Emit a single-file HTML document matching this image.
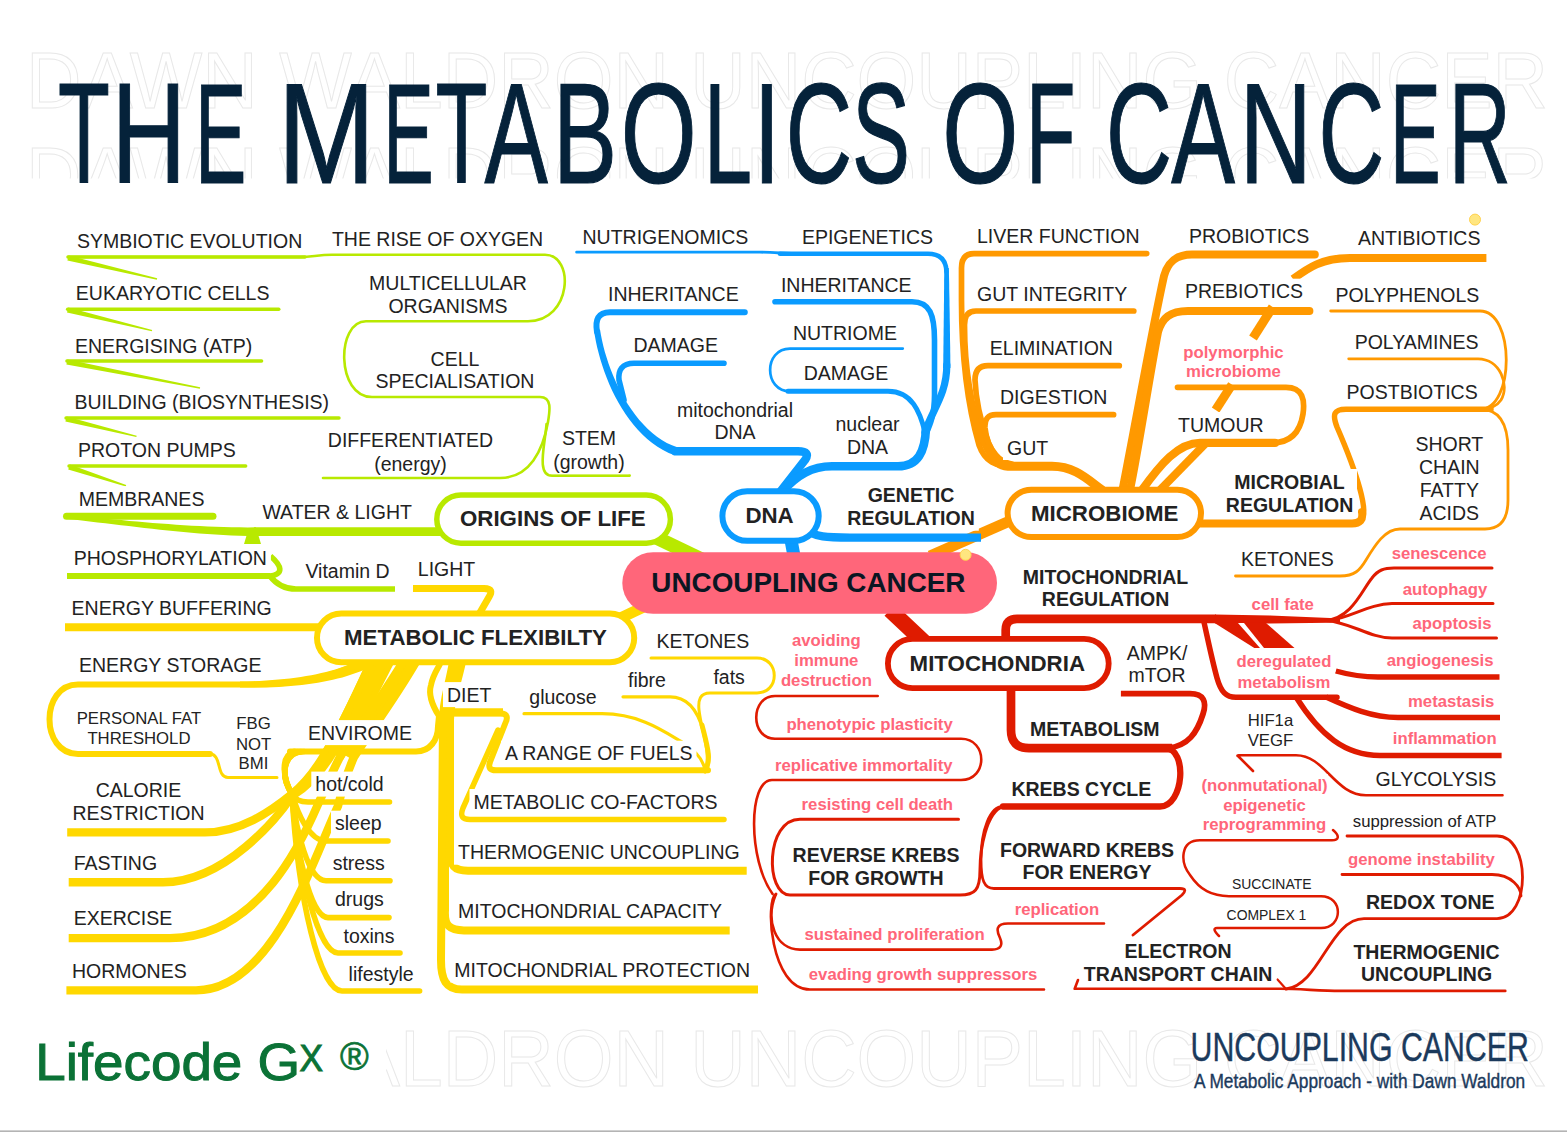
<!DOCTYPE html>
<html><head><meta charset="utf-8"><title>The Metabolics of Cancer</title>
<style>
html,body{margin:0;padding:0;background:#fff;}
svg{display:block;font-family:"Liberation Sans",sans-serif;}
</style></head><body>
<svg width="1567" height="1132" viewBox="0 0 1567 1132">
<rect width="1567" height="1132" fill="#fff"/>
<defs><clipPath id="c2"><rect x="0" y="140" width="1567" height="38.5"/></clipPath>
<clipPath id="c3"><rect x="386" y="1020" width="1181" height="80"/></clipPath></defs>
<g fill="none" stroke="#e8e8e8" stroke-width="1" font-size="79.7">
<text x="26" y="107.5" textLength="1522" lengthAdjust="spacingAndGlyphs">DAWN WALDRON UNCOUPLING CANCER</text>
<text x="26" y="202.5" textLength="1522" lengthAdjust="spacingAndGlyphs" clip-path="url(#c2)">DAWN WALDRON UNCOUPLING CANCER</text>
<text x="26" y="1086" textLength="1522" lengthAdjust="spacingAndGlyphs" clip-path="url(#c3)">DAWN WALDRON UNCOUPLING CANCER</text>
</g>
<g fill="#05223a" stroke="#05223a" stroke-width="1.2" font-size="143">
<text y="183.2"><tspan x="57.9" textLength="51.9" lengthAdjust="spacingAndGlyphs">T</tspan><tspan x="111.5" textLength="74.6" lengthAdjust="spacingAndGlyphs">H</tspan><tspan x="194.9" textLength="51.3" lengthAdjust="spacingAndGlyphs">E</tspan></text>
<text y="183.2"><tspan x="277.5" textLength="97.8" lengthAdjust="spacingAndGlyphs">M</tspan><tspan x="383.2" textLength="50.5" lengthAdjust="spacingAndGlyphs">E</tspan><tspan x="435.4" textLength="51.9" lengthAdjust="spacingAndGlyphs">T</tspan><tspan x="484.4" textLength="63.3" lengthAdjust="spacingAndGlyphs">A</tspan><tspan x="552.9" textLength="64.1" lengthAdjust="spacingAndGlyphs">B</tspan><tspan x="620.8" textLength="75.9" lengthAdjust="spacingAndGlyphs">O</tspan><tspan x="703.8" textLength="48.3" lengthAdjust="spacingAndGlyphs">L</tspan><tspan x="753.2" textLength="27.2" lengthAdjust="spacingAndGlyphs">I</tspan><tspan x="785.8" textLength="66.4" lengthAdjust="spacingAndGlyphs">C</tspan><tspan x="852.1" textLength="58.0" lengthAdjust="spacingAndGlyphs">S</tspan></text>
<text y="183.2"><tspan x="942.2" textLength="76.1" lengthAdjust="spacingAndGlyphs">O</tspan><tspan x="1026.0" textLength="49.4" lengthAdjust="spacingAndGlyphs">F</tspan></text>
<text y="183.2"><tspan x="1106.1" textLength="66.0" lengthAdjust="spacingAndGlyphs">C</tspan><tspan x="1171.2" textLength="63.7" lengthAdjust="spacingAndGlyphs">A</tspan><tspan x="1239.4" textLength="72.5" lengthAdjust="spacingAndGlyphs">N</tspan><tspan x="1318.6" textLength="65.8" lengthAdjust="spacingAndGlyphs">C</tspan><tspan x="1390.0" textLength="50.7" lengthAdjust="spacingAndGlyphs">E</tspan><tspan x="1448.7" textLength="62.1" lengthAdjust="spacingAndGlyphs">R</tspan></text>
</g>

<g id="lines">
<path d="M68,257 L300,257 C312,257 318,254.8 332,254.8 L545,254.8 C575,254.8 572,321.3 528,321.3 L366,321.3 C336,321.3 336,397 372,397 L540,397 C552,397 550,410 548,422 C543,450 530,478 500,478 L323,478" stroke="#b8e900" stroke-width="2.6" fill="none" stroke-linecap="round" stroke-linejoin="round"/>
<path d="M546.5,424 C545,445 536,475.6 552,475.6 L629.7,475.6" stroke="#b8e900" stroke-width="2.6" fill="none" stroke-linecap="round" stroke-linejoin="round"/>
<path d="M67.6,309.2 L278.8,309.2" stroke="#b8e900" stroke-width="3.4" fill="none" stroke-linecap="round" stroke-linejoin="round"/>
<path d="M66.9,361 L261.6,361" stroke="#b8e900" stroke-width="3.4" fill="none" stroke-linecap="round" stroke-linejoin="round"/>
<path d="M66,418 L339,418" stroke="#b8e900" stroke-width="3.4" fill="none" stroke-linecap="round" stroke-linejoin="round"/>
<path d="M69,466 L245.7,466" stroke="#b8e900" stroke-width="3.4" fill="none" stroke-linecap="round" stroke-linejoin="round"/>
<path d="M68,257 L305,257" stroke="#b8e900" stroke-width="3.4" fill="none" stroke-linecap="round" stroke-linejoin="round"/>
<path d="M66.5,516.2 L213,516.2" stroke="#b8e900" stroke-width="7" fill="none" stroke-linecap="round" stroke-linejoin="round"/>
<polygon points="67.4,260.4 156.8,279.7 157.2,278.3 68.6,255.6" fill="#b8e900"/>
<polygon points="67.0,312.4 151.8,331.3 152.2,329.9 68.2,307.6" fill="#b8e900"/>
<polygon points="66.4,364.5 199.9,388.7 200.1,387.3 67.4,359.5" fill="#b8e900"/>
<polygon points="65.4,421.4 136.3,437.1 136.7,435.7 66.6,416.6" fill="#b8e900"/>
<polygon points="68.2,469.4 125.8,486.4 126.2,485.0 69.8,464.6" fill="#b8e900"/>
<polygon points="65.8,518.7 73.8,519.6 81.7,520.5 89.6,521.4 97.5,522.4 105.3,523.3 113.2,524.2 121.0,525.2 128.8,526.1 136.6,527.0 144.4,527.9 152.2,528.8 160.0,529.7 167.8,530.5 175.6,531.3 183.5,532.0 191.4,532.7 199.3,533.4 207.3,534.0 215.3,534.5 223.3,535.0 231.4,535.4 239.5,535.7 247.7,535.9 256.0,536.1 256.0,527.3 247.8,527.4 239.7,527.3 231.6,527.2 223.6,527.1 215.6,526.8 207.7,526.5 199.8,526.1 191.9,525.7 184.0,525.2 176.2,524.7 168.4,524.1 160.5,523.5 152.7,522.9 144.9,522.2 137.1,521.6 129.3,520.9 121.5,520.1 113.7,519.4 105.8,518.7 97.9,518.0 90.0,517.3 82.1,516.6 74.2,515.9 66.2,515.3" fill="#b8e900"/>
<path d="M254,531.7 L440,531.7" stroke="#b8e900" stroke-width="8.8" fill="none" stroke-linecap="butt" stroke-linejoin="round"/>
<polygon points="247,534 258,534 261,544 244,544" fill="#b8e900"/>
<path d="M67,576 L270,576" stroke="#b8e900" stroke-width="6.2" fill="none" stroke-linecap="butt" stroke-linejoin="round"/>
<path d="M270.5,556 C282,566 284,574 270,576 C276,584 284,589 296,589 L395,589" stroke="#b8e900" stroke-width="5.6" fill="none" stroke-linecap="butt" stroke-linejoin="round"/>
<path d="M655,537 L705,561" stroke="#b8e900" stroke-width="14" fill="none" stroke-linecap="butt" stroke-linejoin="round"/>
<path d="M612,622 L650,604" stroke="#ffd800" stroke-width="11" fill="none" stroke-linecap="butt" stroke-linejoin="round"/>
<path d="M413,588.5 L484,588.5 C492,588.5 492,592 489,597 L478,616" stroke="#ffd800" stroke-width="7" fill="none" stroke-linecap="butt" stroke-linejoin="round"/>
<path d="M65,627.2 L322,627.2" stroke="#ffd800" stroke-width="8" fill="none" stroke-linecap="butt" stroke-linejoin="round"/>
<polygon points="363.6,658.0 359.9,659.9 356.0,661.7 352.1,663.4 348.0,665.0 343.8,666.6 339.6,668.0 335.2,669.4 330.6,670.7 326.0,671.9 321.2,673.1 316.3,674.2 311.3,675.2 306.1,676.1 300.8,677.0 295.4,677.7 289.8,678.4 284.1,679.1 278.3,679.6 272.3,680.1 266.1,680.5 259.8,680.9 253.4,681.2 246.8,681.4 240.0,681.5 240.0,687.5 246.8,687.6 253.5,687.6 260.0,687.5 266.4,687.4 272.7,687.2 278.8,686.9 284.8,686.5 290.6,686.1 296.3,685.6 301.9,685.0 307.4,684.3 312.7,683.6 317.9,682.7 323.0,681.8 328.0,680.8 332.9,679.8 337.7,678.6 342.4,677.4 347.0,676.0 351.4,674.6 355.8,673.1 360.1,671.5 364.3,669.8 368.4,668.0" fill="#ffd800"/>
<path d="M358,664 C330,678 295,684.5 250,684.5 L78,684.5 C40,684.5 40,754 78,754 L210,754" stroke="#ffd800" stroke-width="6" fill="none" stroke-linecap="round" stroke-linejoin="round"/>
<path d="M210,754 C222,754 216,777.5 228,777.5 L277,777.5" stroke="#ffd800" stroke-width="3" fill="none" stroke-linecap="round" stroke-linejoin="round"/>
<path d="M290,751.5 L416,751.5 C430,751.5 438,740 438,726 L439,716 C432,705 428,695 431,685 C433,675 437,670 440,664" stroke="#ffd800" stroke-width="6" fill="none" stroke-linecap="round" stroke-linejoin="round"/>
<path d="M304,751.5 C284,752 279,775 292,794 C296,800 300,802 308,802 L389.5,802" stroke="#ffd800" stroke-width="5.6" fill="none" stroke-linecap="round" stroke-linejoin="round"/>
<path d="M302,751.5 C283,753 280,776 292,794 C298,815 310,841 326,841 L388,841" stroke="#ffd800" stroke-width="5.6" fill="none" stroke-linecap="round" stroke-linejoin="round"/>
<path d="M300,751.5 C282,754 281,777 292,794 C296,830 308,880.7 326,880.7 L390,880.7" stroke="#ffd800" stroke-width="5.6" fill="none" stroke-linecap="round" stroke-linejoin="round"/>
<path d="M298,751.5 C281,755 282,778 292,794 C296,850 310,917.6 328,917.6 L389,917.6" stroke="#ffd800" stroke-width="5.6" fill="none" stroke-linecap="round" stroke-linejoin="round"/>
<path d="M296,751.5 C280,756 283,779 292,794 C298,870 318,953 338,953 L400,953" stroke="#ffd800" stroke-width="5.6" fill="none" stroke-linecap="round" stroke-linejoin="round"/>
<path d="M294,751.5 C279,757 284,780 292,794 C298,900 320,991 342,991 L419.6,991" stroke="#ffd800" stroke-width="5.6" fill="none" stroke-linecap="round" stroke-linejoin="round"/>
<path d="M374,662 C356,700 340,735 326,757" stroke="#ffd800" stroke-width="13" fill="none" stroke-linecap="butt" stroke-linejoin="round"/>
<path d="M389,662 C372,695 352,735 339,757" stroke="#ffd800" stroke-width="10" fill="none" stroke-linecap="butt" stroke-linejoin="round"/>
<path d="M410,662 C388,700 364,730 348,757" stroke="#ffd800" stroke-width="11" fill="none" stroke-linecap="butt" stroke-linejoin="round"/>
<path d="M371,662 C354,700 337,735 323,757 C312,775 302,786 292,794 C270,812 240,832.4 205,832.4 L67.2,832.4" stroke="#ffd800" stroke-width="8.4" fill="none" stroke-linecap="butt" stroke-linejoin="round"/>
<path d="M383,662 C364,700 345,735 330,757 C318,776 305,788 292,796 C278,817 225,882.3 163,882.3 L68.7,882.3" stroke="#ffd800" stroke-width="8.4" fill="none" stroke-linecap="butt" stroke-linejoin="round"/>
<path d="M403,662 C380,700 357,730 340,757 C332,772 325,790 319,802 C306,832 262,938.1 170,938.1 L68.7,938.1" stroke="#ffd800" stroke-width="8.4" fill="none" stroke-linecap="butt" stroke-linejoin="round"/>
<path d="M416,662 C394,700 371,730 354,757 C346,775 342,790 338,806 C312,862 272,990.4 196,990.4 L66.4,990.4" stroke="#ffd800" stroke-width="8.4" fill="none" stroke-linecap="butt" stroke-linejoin="round"/>
<path d="M462,662 C456,690 450,700 450,720 L450,850 C450,866 454,870.7 468,870.7 L746.7,870.7" stroke="#ffd800" stroke-width="8" fill="none" stroke-linecap="butt" stroke-linejoin="round"/>
<path d="M457,662 C451,690 445,700 445,720 L445,910 C444,926 450,930.4 464,930.4 L729.7,930.4" stroke="#ffd800" stroke-width="8" fill="none" stroke-linecap="butt" stroke-linejoin="round"/>
<path d="M453,662 C448,690 443,700 443,720 L441,960 C441,980 446,989.5 462,989.5 L758,989.5" stroke="#ffd800" stroke-width="8" fill="none" stroke-linecap="butt" stroke-linejoin="round"/>
<path d="M443,713.6 L500,713.6 C508,713.4 508,718 505,724 L490,762 C488,768 490,770.3 496,770.3 L708,770.3" stroke="#ffd800" stroke-width="6" fill="none" stroke-linecap="round" stroke-linejoin="round"/>
<path d="M498,730 L463,808 C460,816 462,819.5 470,819.5 L724,819.5" stroke="#ffd800" stroke-width="5.5" fill="none" stroke-linecap="round" stroke-linejoin="round"/>
<path d="M441,712.2 L503,712.2" stroke="#ffd800" stroke-width="8" fill="none" stroke-linecap="butt" stroke-linejoin="round"/>
<path d="M524,713.7 L602,713.7 C640,713.7 665,732 682,742 C698,752 704,762 705,771" stroke="#ffd800" stroke-width="3.2" fill="none" stroke-linecap="round" stroke-linejoin="round"/>
<path d="M623,696.8 L670,696.8 C688,696.8 698,712 703,730 C708,748 712,760 705,771" stroke="#ffd800" stroke-width="3.2" fill="none" stroke-linecap="round" stroke-linejoin="round"/>
<path d="M651,658 L757,658 C780,658 780,693 757,693 L710,693 C700,693 698,700 699,710 C701,730 712,755 705,771" stroke="#ffd800" stroke-width="3" fill="none" stroke-linecap="round" stroke-linejoin="round"/>
<path d="M702,725 C707,745 712,760 705,771" stroke="#ffd800" stroke-width="5" fill="none" stroke-linecap="round" stroke-linejoin="round"/>
<path d="M576.6,252.2 L760,252.2 C775,252.2 785,253.8 800,253.8" stroke="#0a9bff" stroke-width="2.8" fill="none" stroke-linecap="round" stroke-linejoin="round"/>
<path d="M780,253.8 L928,253.8 Q946,253.8 946.5,272" stroke="#0a9bff" stroke-width="4.6" fill="none" stroke-linecap="round" stroke-linejoin="round"/>
<polygon points="944.2,268.0 944.2,272.0 944.2,276.1 944.1,280.1 944.1,284.2 944.1,288.4 944.0,292.5 944.0,296.7 944.0,300.8 943.9,305.0 943.9,309.2 943.8,313.4 943.8,317.6 943.7,321.9 943.7,326.1 943.6,330.3 943.6,334.5 943.5,338.7 943.5,343.0 943.4,347.2 943.4,351.4 943.3,355.5 943.3,359.7 943.2,363.9 943.1,368.0 950.4,368.0 950.4,363.9 950.3,359.7 950.3,355.5 950.2,351.4 950.2,347.2 950.1,343.0 950.0,338.7 950.0,334.5 949.9,330.3 949.9,326.1 949.8,321.8 949.7,317.6 949.7,313.4 949.6,309.2 949.5,305.0 949.5,300.8 949.4,296.6 949.3,292.5 949.2,288.3 949.2,284.2 949.1,280.1 949.0,276.0 948.9,272.0 948.8,268.0" fill="#0a9bff"/>
<path d="M946.8,365 C946.8,395 932,410 925,432" stroke="#0a9bff" stroke-width="7.2" fill="none" stroke-linecap="round" stroke-linejoin="round"/>
<path d="M744.8,312.2 L610,312.2 C598,312.2 595,320 597,332" stroke="#0a9bff" stroke-width="6" fill="none" stroke-linecap="round" stroke-linejoin="round"/>
<polygon points="594.0,330.4 594.9,335.9 595.9,341.6 597.2,347.4 598.7,353.3 600.4,359.4 602.3,365.6 604.4,371.8 606.8,378.0 609.3,384.2 612.1,390.4 615.1,396.5 618.4,402.5 621.8,408.3 625.5,414.0 629.4,419.5 633.5,424.8 637.8,429.8 642.4,434.6 647.2,439.0 652.2,443.1 657.5,446.8 663.0,450.1 668.7,452.9 674.7,455.3 677.3,447.3 672.0,445.3 666.8,442.9 661.8,440.0 657.0,436.7 652.3,433.0 647.8,429.0 643.5,424.6 639.3,420.0 635.4,415.0 631.6,409.8 628.0,404.4 624.6,398.9 621.4,393.2 618.4,387.3 615.7,381.4 613.1,375.4 610.7,369.4 608.5,363.5 606.6,357.5 604.8,351.7 603.3,345.9 602.0,340.3 600.9,334.8 600.0,329.6" fill="#0a9bff"/>
<path d="M675,451.3 L798,451.3 Q811,451.3 805,460 L780,492" stroke="#0a9bff" stroke-width="8.4" fill="none" stroke-linecap="round" stroke-linejoin="round"/>
<path d="M724,363.3 L634,363.3 C622,363.3 618,370 619,380 L624,400" stroke="#0a9bff" stroke-width="5.6" fill="none" stroke-linecap="round" stroke-linejoin="round"/>
<path d="M775,301.7 L912,301.7 C930,301.7 934.5,315 934.5,340 L934.5,395 C934.5,415 930,425 926,434" stroke="#0a9bff" stroke-width="5.6" fill="none" stroke-linecap="round" stroke-linejoin="round"/>
<path d="M926,428 C925,452 918,466.3 898,466.3 L832,466.3 C812,466.3 797,475 782,492" stroke="#0a9bff" stroke-width="8.6" fill="none" stroke-linecap="round" stroke-linejoin="round"/>
<path d="M902.8,348.6 L790,348.6 C763.5,348.6 763.5,391.2 790,391.2" stroke="#0a9bff" stroke-width="2.7" fill="none" stroke-linecap="round" stroke-linejoin="round"/>
<path d="M788,391.2 L888,391.2 C912,391.2 920,412 925,432" stroke="#0a9bff" stroke-width="5" fill="none" stroke-linecap="round" stroke-linejoin="round"/>
<path d="M791,540 L794,556" stroke="#0a9bff" stroke-width="13" fill="none" stroke-linecap="butt" stroke-linejoin="round"/>
<path d="M1146.7,253.6 L974,253.6 Q961.5,253.6 961.5,268 L961.5,300 C961.5,350 966,400 979,445 C985,462 996,466.3 1012,466.3" stroke="#ff9900" stroke-width="5.7" fill="none" stroke-linecap="round" stroke-linejoin="round"/>
<path d="M1133.8,311 L976,311 Q964.5,311 964.5,325 C964.5,370 972,410 984,444 C990,458 998,464 1010,465" stroke="#ff9900" stroke-width="5.7" fill="none" stroke-linecap="round" stroke-linejoin="round"/>
<path d="M1119.3,365.7 L988,365.7 Q975,365.7 975,380 C976,405 982,425 988,442 C994,456 1000,462 1010,464" stroke="#ff9900" stroke-width="5.7" fill="none" stroke-linecap="round" stroke-linejoin="round"/>
<path d="M1113.6,414.7 L996,414.7 Q984,414.7 985,428 C986,438 990,448 996,455 C1000,460 1005,463 1012,464" stroke="#ff9900" stroke-width="5.7" fill="none" stroke-linecap="round" stroke-linejoin="round"/>
<path d="M1000,464 C1004,466.3 1008,466.3 1012,466.3 L1052,466.3 C1075,466.3 1088,480 1102,490" stroke="#ff9900" stroke-width="9" fill="none" stroke-linecap="round" stroke-linejoin="round"/>
<path d="M1314.8,254.5 L1192,254.5 C1176,254.5 1168,262 1164,276 C1152,330 1140,400 1122.5,490" stroke="#ff9900" stroke-width="8" fill="none" stroke-linecap="round" stroke-linejoin="round"/>
<path d="M1486.4,257.9 L1350,257.9 C1322,257.9 1308,268 1293,279" stroke="#ff9900" stroke-width="8" fill="none" stroke-linecap="butt" stroke-linejoin="round"/>
<path d="M1309.4,311 L1188,311 C1170,311 1162,318 1158,332 C1148,385 1140,440 1130,490" stroke="#ff9900" stroke-width="8" fill="none" stroke-linecap="round" stroke-linejoin="round"/>
<path d="M1272.7,307 L1253,338" stroke="#ff9900" stroke-width="9" fill="none" stroke-linecap="butt" stroke-linejoin="round"/>
<path d="M1177.5,387.3 L1286,387.3 C1303,387.3 1305,400 1303,414 C1300,433 1290,442.9 1272,442.9" stroke="#ff9900" stroke-width="5.7" fill="none" stroke-linecap="round" stroke-linejoin="round"/>
<path d="M1275,442.9 L1200,442.9 C1178,442.9 1160,465 1142,490" stroke="#ff9900" stroke-width="8.2" fill="none" stroke-linecap="round" stroke-linejoin="round"/>
<path d="M1207,442 L1160,490" stroke="#ff9900" stroke-width="8.2" fill="none" stroke-linecap="butt" stroke-linejoin="round"/>
<path d="M1232,384.6 L1215.6,410" stroke="#ff9900" stroke-width="9" fill="none" stroke-linecap="butt" stroke-linejoin="round"/>
<path d="M1200,523.4 L1352,523.4 Q1364,523.4 1362,512" stroke="#ff9900" stroke-width="8" fill="none" stroke-linecap="round" stroke-linejoin="round"/>
<path d="M1363,516 C1366,508 1360,480 1337,427 C1332,414 1334,409.2 1346,409.2 L1491,409.2" stroke="#ff9900" stroke-width="5.5" fill="none" stroke-linecap="round" stroke-linejoin="round"/>
<path d="M1330.7,311 L1480,311 C1515,311 1515,409.2 1480,409.2" stroke="#ff9900" stroke-width="2.8" fill="none" stroke-linecap="round" stroke-linejoin="round"/>
<path d="M1348.7,358.8 L1478,358.8 C1500,358.8 1510,385 1501,400 C1497,406 1490,409.2 1480,409.2" stroke="#ff9900" stroke-width="2.8" fill="none" stroke-linecap="round" stroke-linejoin="round"/>
<path d="M1480,409.2 C1503,409.2 1508,430 1508,450 L1508,500 C1508,520 1500,529 1485,529 L1400,529 C1385,529 1375,545 1366,560 C1360,570 1355,576 1340,576 L1235.5,576" stroke="#ff9900" stroke-width="2.8" fill="none" stroke-linecap="round" stroke-linejoin="round"/>
<path d="M1012,520 L930,556" stroke="#ff9900" stroke-width="11" fill="none" stroke-linecap="butt" stroke-linejoin="round"/>
<path d="M806,528 C812,537.6 830,537.6 850,537.6 L981,537.6" stroke="#0a9bff" stroke-width="8.2" fill="none" stroke-linecap="butt" stroke-linejoin="round"/>
<path d="M890,610 L924,642" stroke="#df1b00" stroke-width="16" fill="none" stroke-linecap="butt" stroke-linejoin="round"/>
<path d="M1005.7,642 L1005.7,630 Q1005.7,618.9 1017,618.9 L1216,618.9" stroke="#df1b00" stroke-width="8.7" fill="none" stroke-linecap="butt" stroke-linejoin="round"/>
<polygon points="1215,614.55 1270,615.5 1330,618 1340,619 1340,622.2 1330,622.8 1270,623.6 1215,623.25" fill="#df1b00"/>
<path d="M1326,620.4 C1352,618 1362,590 1372,578 C1378,570 1384,568 1394,568 L1492,568" stroke="#df1b00" stroke-width="3" fill="none" stroke-linecap="round" stroke-linejoin="round"/>
<path d="M1330,620.4 C1350,618 1370,603.6 1392,603.6 L1493,603.6" stroke="#df1b00" stroke-width="3" fill="none" stroke-linecap="round" stroke-linejoin="round"/>
<path d="M1326,620.4 C1350,622 1370,638 1392,638 L1496.5,638" stroke="#df1b00" stroke-width="3" fill="none" stroke-linecap="round" stroke-linejoin="round"/>
<path d="M1203.5,620 C1208,640 1212,660 1217,678 C1221,692 1226,697.3 1236,697.3 L1337,697.3" stroke="#df1b00" stroke-width="5.5" fill="none" stroke-linecap="round" stroke-linejoin="round"/>
<polygon points="1213,622 1266,623 1294.5,648 1254.3,648" fill="#df1b00"/>
<polygon points="1238,623 1244,623 1264,648 1260,648" fill="#fff"/>
<path d="M1335.8,671 C1350,675 1362,677 1378,677 L1499.5,677" stroke="#df1b00" stroke-width="5.3" fill="none" stroke-linecap="butt" stroke-linejoin="round"/>
<path d="M1326,697 C1350,708 1372,717.5 1398,717.5 L1500,717.5" stroke="#df1b00" stroke-width="5.3" fill="none" stroke-linecap="butt" stroke-linejoin="round"/>
<path d="M1296,697 C1320,735 1345,755.4 1380,755.4 L1501.6,755.4" stroke="#df1b00" stroke-width="5.5" fill="none" stroke-linecap="butt" stroke-linejoin="round"/>
<path d="M1120.9,693.7 L1190,693.7 C1204,693.7 1207,702 1203,714 C1197,733 1188,746 1168,748" stroke="#df1b00" stroke-width="5.8" fill="none" stroke-linecap="butt" stroke-linejoin="round"/>
<path d="M1011,689 L1011,730 Q1011,748.2 1029,748.2 L1172,748.2" stroke="#df1b00" stroke-width="8.7" fill="none" stroke-linecap="butt" stroke-linejoin="round"/>
<path d="M1165,748.2 C1188,748.2 1184,806.5 1160,806.5 L1003,806.5" stroke="#df1b00" stroke-width="6.3" fill="none" stroke-linecap="round" stroke-linejoin="round"/>
<path d="M1003,806.5 C990,806.5 981,830 981,860 C981,880 984,888.5 994,888.5 L1180,888.5 C1186,888.5 1186,891 1182,895 L1133,935" stroke="#df1b00" stroke-width="2.8" fill="none" stroke-linecap="round" stroke-linejoin="round"/>
<path d="M1003,806.5 C986,812 980,850 980,870 C980,890 975,895 960,895 L790,895 C765,895 765,819.2 800,819.2 L958.5,819.2" stroke="#df1b00" stroke-width="3" fill="none" stroke-linecap="round" stroke-linejoin="round"/>
<path d="M877.7,696 L775,696 C750,696 750,738.8 775,738.8 L961,738.8 C988,738.8 988,780 961,780 L772,780 C748,780 748,860 772.6,894" stroke="#df1b00" stroke-width="2.6" fill="none" stroke-linecap="round" stroke-linejoin="round"/>
<path d="M776,894 C765,920 775,949.6 800,949.6 L992,949.6 C1001,949.6 1003,945 1000,938 C996,930 996,923.5 1008,923.5 L1104,923.5" stroke="#df1b00" stroke-width="2.6" fill="none" stroke-linecap="round" stroke-linejoin="round"/>
<path d="M776,894 C765,900 770,989.5 810,989.5 L1044,989.5" stroke="#df1b00" stroke-width="2.6" fill="none" stroke-linecap="round" stroke-linejoin="round"/>
<path d="M1253,771 L1238,756 C1236,755.2 1240,755.2 1244,755.2 L1296,755.2 C1325,755.2 1335,795.3 1366,795.3 L1502.5,795.3" stroke="#df1b00" stroke-width="2.6" fill="none" stroke-linecap="round" stroke-linejoin="round"/>
<path d="M1333,830 C1340,836 1339,840.2 1332,840.2 L1200,840.2 C1180,840.2 1180,862 1190,875 C1200,890 1212,896.2 1229,896.2 L1321,896.2 C1343.5,896.2 1343.5,928 1321,928 L1217,928 C1213,928 1214,931 1219,936" stroke="#df1b00" stroke-width="2.5" fill="none" stroke-linecap="round" stroke-linejoin="round"/>
<path d="M1347,836 L1497,836 C1531,836 1531,918.6 1497,918.6 L1364,918.6 C1330,918.6 1320,985 1286,989" stroke="#df1b00" stroke-width="2.8" fill="none" stroke-linecap="round" stroke-linejoin="round"/>
<path d="M1342,874.5 L1492,874.5 C1512,874.5 1521,888 1521,896" stroke="#df1b00" stroke-width="2.8" fill="none" stroke-linecap="round" stroke-linejoin="round"/>
<path d="M1078,980 L1074.7,988.8 L1280,988.8 C1300,988.8 1320,990.9 1340,990.9 L1505.3,990.9" stroke="#df1b00" stroke-width="2.6" fill="none" stroke-linecap="round" stroke-linejoin="round"/>
<path d="M1277.5,979.5 L1286,989" stroke="#df1b00" stroke-width="2.2" fill="none" stroke-linecap="round" stroke-linejoin="round"/>
</g>
<g id="bgs">
<rect x="72.9" y="228.6" width="233.4" height="25.0" fill="#fff"/>
<rect x="327.9" y="226.5" width="219.3" height="25.0" fill="#fff"/>
<rect x="71.8" y="280.7" width="201.6" height="25.0" fill="#fff"/>
<rect x="71.0" y="333.0" width="185.3" height="25.0" fill="#fff"/>
<rect x="70.5" y="389.5" width="262.6" height="25.0" fill="#fff"/>
<rect x="74.0" y="437.4" width="165.8" height="25.0" fill="#fff"/>
<rect x="74.7" y="486.2" width="133.7" height="25.0" fill="#fff"/>
<rect x="365.1" y="270.0" width="165.8" height="25.0" fill="#fff"/>
<rect x="384.4" y="293.0" width="127.2" height="25.0" fill="#fff"/>
<rect x="426.6" y="346.1" width="56.8" height="25.0" fill="#fff"/>
<rect x="371.5" y="368.9" width="166.9" height="25.0" fill="#fff"/>
<rect x="323.8" y="427.1" width="173.4" height="25.0" fill="#fff"/>
<rect x="370.2" y="451.0" width="80.6" height="25.0" fill="#fff"/>
<rect x="557.9" y="425.1" width="62.2" height="25.0" fill="#fff"/>
<rect x="549.2" y="449.2" width="79.5" height="25.0" fill="#fff"/>
<rect x="258.4" y="499.3" width="157.5" height="25.0" fill="#fff"/>
<rect x="69.7" y="545.2" width="201.2" height="25.0" fill="#fff"/>
<rect x="301.4" y="558.7" width="92.2" height="25.0" fill="#fff"/>
<rect x="413.8" y="556.5" width="65.4" height="25.0" fill="#fff"/>
<rect x="67.6" y="595.3" width="208.1" height="25.0" fill="#fff"/>
<rect x="75.0" y="652.6" width="190.4" height="25.0" fill="#fff"/>
<rect x="72.7" y="707.7" width="132.5" height="21.4" fill="#fff"/>
<rect x="83.4" y="727.3" width="111.1" height="21.4" fill="#fff"/>
<rect x="232.3" y="712.1" width="42.4" height="21.4" fill="#fff"/>
<rect x="231.9" y="733.1" width="43.3" height="21.4" fill="#fff"/>
<rect x="234.6" y="752.5" width="37.7" height="21.4" fill="#fff"/>
<rect x="304.0" y="720.1" width="112.0" height="25.0" fill="#fff"/>
<rect x="311.3" y="771.6" width="76.3" height="25.0" fill="#fff"/>
<rect x="331.0" y="810.7" width="54.6" height="25.0" fill="#fff"/>
<rect x="328.7" y="850.5" width="60.0" height="25.0" fill="#fff"/>
<rect x="331.0" y="886.7" width="56.8" height="25.0" fill="#fff"/>
<rect x="339.5" y="923.0" width="58.9" height="25.0" fill="#fff"/>
<rect x="344.6" y="961.0" width="73.0" height="25.0" fill="#fff"/>
<rect x="91.7" y="777.0" width="93.6" height="25.0" fill="#fff"/>
<rect x="68.4" y="800.2" width="140.2" height="25.0" fill="#fff"/>
<rect x="69.7" y="850.5" width="91.4" height="25.0" fill="#fff"/>
<rect x="69.7" y="905.7" width="106.6" height="25.0" fill="#fff"/>
<rect x="67.9" y="958.1" width="122.8" height="25.0" fill="#fff"/>
<rect x="443.0" y="682.1" width="52.4" height="25.0" fill="#fff"/>
<rect x="525.3" y="684.0" width="75.2" height="25.0" fill="#fff"/>
<rect x="624.0" y="667.7" width="45.9" height="25.0" fill="#fff"/>
<rect x="709.4" y="664.7" width="39.4" height="25.0" fill="#fff"/>
<rect x="652.5" y="628.5" width="100.8" height="25.0" fill="#fff"/>
<rect x="501.0" y="740.7" width="195.5" height="25.0" fill="#fff"/>
<rect x="469.5" y="789.0" width="252.1" height="25.0" fill="#fff"/>
<rect x="454.0" y="839.7" width="289.7" height="25.0" fill="#fff"/>
<rect x="454.0" y="898.7" width="272.0" height="25.0" fill="#fff"/>
<rect x="450.3" y="957.5" width="303.8" height="25.0" fill="#fff"/>
<rect x="578.5" y="224.0" width="173.8" height="25.0" fill="#fff"/>
<rect x="797.9" y="224.0" width="139.1" height="25.0" fill="#fff"/>
<rect x="604.0" y="281.2" width="138.7" height="25.0" fill="#fff"/>
<rect x="776.9" y="272.2" width="138.7" height="25.0" fill="#fff"/>
<rect x="629.5" y="332.7" width="92.5" height="25.0" fill="#fff"/>
<rect x="788.9" y="320.0" width="112.0" height="25.0" fill="#fff"/>
<rect x="799.7" y="360.2" width="92.5" height="25.0" fill="#fff"/>
<rect x="673.0" y="397.1" width="124.0" height="25.0" fill="#fff"/>
<rect x="710.4" y="419.9" width="49.2" height="25.0" fill="#fff"/>
<rect x="831.5" y="411.6" width="72.0" height="25.0" fill="#fff"/>
<rect x="842.9" y="434.1" width="49.2" height="25.0" fill="#fff"/>
<rect x="863.7" y="482.2" width="94.7" height="25.0" fill="#fff"/>
<rect x="843.3" y="505.7" width="135.5" height="25.0" fill="#fff"/>
<rect x="973.0" y="223.2" width="170.5" height="25.0" fill="#fff"/>
<rect x="973.0" y="281.4" width="158.2" height="25.0" fill="#fff"/>
<rect x="985.8" y="335.4" width="131.1" height="25.0" fill="#fff"/>
<rect x="996.0" y="384.7" width="115.3" height="25.0" fill="#fff"/>
<rect x="1003.0" y="435.0" width="49.2" height="25.0" fill="#fff"/>
<rect x="1184.9" y="223.2" width="128.3" height="25.0" fill="#fff"/>
<rect x="1354.0" y="225.2" width="130.4" height="25.0" fill="#fff"/>
<rect x="1181.0" y="278.7" width="126.1" height="25.0" fill="#fff"/>
<rect x="1179.3" y="340.9" width="108.3" height="21.4" fill="#fff"/>
<rect x="1182.1" y="360.1" width="102.8" height="21.4" fill="#fff"/>
<rect x="1174.0" y="412.0" width="93.6" height="25.0" fill="#fff"/>
<rect x="1222" y="469" width="135" height="48" fill="#fff"/>
<rect x="1230.3" y="469.4" width="118.5" height="25.0" fill="#fff"/>
<rect x="1221.8" y="492.4" width="135.5" height="25.0" fill="#fff"/>
<rect x="1331.5" y="282.6" width="151.8" height="25.0" fill="#fff"/>
<rect x="1350.7" y="329.3" width="131.9" height="25.0" fill="#fff"/>
<rect x="1342.6" y="379.3" width="139.1" height="25.0" fill="#fff"/>
<rect x="1411.4" y="431.2" width="75.9" height="25.0" fill="#fff"/>
<rect x="1415.0" y="454.1" width="68.7" height="25.0" fill="#fff"/>
<rect x="1415.7" y="477.9" width="67.2" height="25.0" fill="#fff"/>
<rect x="1415.5" y="500.1" width="67.6" height="25.0" fill="#fff"/>
<rect x="1236.9" y="546.4" width="100.8" height="25.0" fill="#fff"/>
<rect x="1018.8" y="564.3" width="173.4" height="25.0" fill="#fff"/>
<rect x="1037.8" y="586.5" width="135.5" height="25.0" fill="#fff"/>
<rect x="1387.7" y="542.1" width="102.8" height="21.4" fill="#fff"/>
<rect x="1398.8" y="577.8" width="92.5" height="21.4" fill="#fff"/>
<rect x="1408.5" y="611.8" width="87.0" height="21.4" fill="#fff"/>
<rect x="1247.6" y="592.8" width="70.3" height="21.4" fill="#fff"/>
<rect x="1232.6" y="650.4" width="102.8" height="21.4" fill="#fff"/>
<rect x="1233.5" y="670.8" width="100.9" height="21.4" fill="#fff"/>
<rect x="1382.7" y="649.3" width="114.8" height="21.4" fill="#fff"/>
<rect x="1404.0" y="690.5" width="94.4" height="21.4" fill="#fff"/>
<rect x="1388.8" y="727.7" width="112.0" height="21.4" fill="#fff"/>
<rect x="1122.7" y="640.1" width="68.7" height="25.0" fill="#fff"/>
<rect x="1124.5" y="662.6" width="65.0" height="25.0" fill="#fff"/>
<rect x="1026.0" y="716.2" width="137.6" height="25.0" fill="#fff"/>
<rect x="1243.7" y="709.4" width="53.5" height="21.4" fill="#fff"/>
<rect x="1243.7" y="729.7" width="53.5" height="21.4" fill="#fff"/>
<rect x="1371.6" y="766.2" width="128.7" height="25.0" fill="#fff"/>
<rect x="1007.4" y="776.2" width="147.8" height="25.0" fill="#fff"/>
<rect x="1201.4" y="774.0" width="126.3" height="21.4" fill="#fff"/>
<rect x="1219.2" y="794.5" width="90.7" height="21.4" fill="#fff"/>
<rect x="1198.7" y="813.2" width="131.6" height="21.4" fill="#fff"/>
<rect x="1228.0" y="875.0" width="87.5" height="17.8" fill="#fff"/>
<rect x="1222.6" y="906.1" width="87.7" height="17.8" fill="#fff"/>
<rect x="1348.8" y="810.3" width="151.7" height="21.4" fill="#fff"/>
<rect x="1344.0" y="847.9" width="154.8" height="21.4" fill="#fff"/>
<rect x="1362.0" y="889.7" width="136.6" height="25.0" fill="#fff"/>
<rect x="1349.4" y="939.1" width="154.2" height="25.0" fill="#fff"/>
<rect x="1357.0" y="961.2" width="139.1" height="25.0" fill="#fff"/>
<rect x="1120.4" y="938.0" width="115.2" height="25.0" fill="#fff"/>
<rect x="1079.8" y="961.2" width="196.5" height="25.0" fill="#fff"/>
<rect x="996.0" y="837.3" width="182.1" height="25.0" fill="#fff"/>
<rect x="1018.5" y="859.7" width="136.9" height="25.0" fill="#fff"/>
<rect x="1010.7" y="897.9" width="92.5" height="21.4" fill="#fff"/>
<rect x="788.0" y="629.5" width="76.7" height="21.4" fill="#fff"/>
<rect x="790.3" y="649.4" width="72.1" height="21.4" fill="#fff"/>
<rect x="776.9" y="669.7" width="99.0" height="21.4" fill="#fff"/>
<rect x="782.4" y="713.2" width="174.3" height="21.4" fill="#fff"/>
<rect x="771.0" y="753.8" width="185.5" height="21.4" fill="#fff"/>
<rect x="797.6" y="793.5" width="159.4" height="21.4" fill="#fff"/>
<rect x="788.6" y="842.7" width="174.9" height="25.0" fill="#fff"/>
<rect x="804.3" y="865.7" width="143.4" height="25.0" fill="#fff"/>
<rect x="800.5" y="923.3" width="188.2" height="21.4" fill="#fff"/>
<rect x="804.8" y="962.8" width="236.5" height="21.4" fill="#fff"/>
</g>
<g id="boxes">
<rect x="436.8" y="495.1" width="233.6" height="48.1" rx="24.1" fill="#fff" stroke="#b8e900" stroke-width="5.5"/>
<rect x="317.0" y="613.6" width="317.2" height="48.6" rx="24.3" fill="#fff" stroke="#ffd800" stroke-width="6"/>
<rect x="722.4" y="491.2" width="96.3" height="49.6" rx="24.8" fill="#fff" stroke="#0a9bff" stroke-width="6"/>
<rect x="1007.6" y="489.7" width="193.4" height="47.3" rx="23.7" fill="#fff" stroke="#ff9900" stroke-width="6"/>
<rect x="887.9" y="638.9" width="220.8" height="49.2" rx="24.6" fill="#fff" stroke="#df1b00" stroke-width="5.8"/>
<rect x="622.3" y="552.2" width="374.7" height="61.6" rx="30.8" fill="#ff667a"/>
<circle cx="965.6" cy="554.8" r="5.5" fill="#ffe680" stroke="#ffd24d" stroke-width="1"/>
<circle cx="1475" cy="219.6" r="5.5" fill="#ffe680" stroke="#ffd24d" stroke-width="1"/>
</g>
<g id="labels">
<text x="651.3" y="592.2" font-size="27.86" font-weight="bold" fill="#0b1622" textLength="314.2" lengthAdjust="spacingAndGlyphs">UNCOUPLING CANCER</text>
<text x="460.0" y="526.2" font-size="22.29" font-weight="bold" fill="#222222" textLength="185.7" lengthAdjust="spacingAndGlyphs">ORIGINS OF LIFE</text>
<text x="344.0" y="644.7" font-size="22.29" font-weight="bold" fill="#222222" textLength="262.9" lengthAdjust="spacingAndGlyphs">METABOLIC FLEXIBILTY</text>
<text x="745.4" y="523.4" font-size="22.29" font-weight="bold" fill="#222222" textLength="48.3" lengthAdjust="spacingAndGlyphs">DNA</text>
<text x="1031.0" y="521.2" font-size="22.29" font-weight="bold" fill="#222222" textLength="147.4" lengthAdjust="spacingAndGlyphs">MICROBIOME</text>
<text x="909.6" y="670.8" font-size="22.29" font-weight="bold" fill="#222222" textLength="175.4" lengthAdjust="spacingAndGlyphs">MITOCHONDRIA</text>
<text x="76.9" y="248.1" font-size="19.50" fill="#222222" textLength="225.4" lengthAdjust="spacingAndGlyphs">SYMBIOTIC EVOLUTION</text>
<text x="331.9" y="246.0" font-size="19.50" fill="#222222" textLength="211.3" lengthAdjust="spacingAndGlyphs">THE RISE OF OXYGEN</text>
<text x="75.8" y="300.2" font-size="19.50" fill="#222222" textLength="193.6" lengthAdjust="spacingAndGlyphs">EUKARYOTIC CELLS</text>
<text x="75.0" y="352.5" font-size="19.50" fill="#222222" textLength="177.3" lengthAdjust="spacingAndGlyphs">ENERGISING (ATP)</text>
<text x="74.5" y="409.0" font-size="19.50" fill="#222222" textLength="254.6" lengthAdjust="spacingAndGlyphs">BUILDING (BIOSYNTHESIS)</text>
<text x="78.0" y="456.9" font-size="19.50" fill="#222222" textLength="157.8" lengthAdjust="spacingAndGlyphs">PROTON PUMPS</text>
<text x="78.7" y="505.7" font-size="19.50" fill="#222222" textLength="125.7" lengthAdjust="spacingAndGlyphs">MEMBRANES</text>
<text x="369.1" y="289.5" font-size="19.50" fill="#222222" textLength="157.8" lengthAdjust="spacingAndGlyphs">MULTICELLULAR</text>
<text x="388.4" y="312.5" font-size="19.50" fill="#222222" textLength="119.2" lengthAdjust="spacingAndGlyphs">ORGANISMS</text>
<text x="430.6" y="365.6" font-size="19.50" fill="#222222" textLength="48.8" lengthAdjust="spacingAndGlyphs">CELL</text>
<text x="375.5" y="388.4" font-size="19.50" fill="#222222" textLength="158.9" lengthAdjust="spacingAndGlyphs">SPECIALISATION</text>
<text x="327.8" y="446.6" font-size="19.50" fill="#222222" textLength="165.4" lengthAdjust="spacingAndGlyphs">DIFFERENTIATED</text>
<text x="374.2" y="470.5" font-size="19.50" fill="#222222" textLength="72.6" lengthAdjust="spacingAndGlyphs">(energy)</text>
<text x="561.9" y="444.6" font-size="19.50" fill="#222222" textLength="54.2" lengthAdjust="spacingAndGlyphs">STEM</text>
<text x="553.2" y="468.7" font-size="19.50" fill="#222222" textLength="71.5" lengthAdjust="spacingAndGlyphs">(growth)</text>
<text x="262.4" y="518.8" font-size="19.50" fill="#222222" textLength="149.5" lengthAdjust="spacingAndGlyphs">WATER &amp; LIGHT</text>
<text x="73.7" y="564.7" font-size="19.50" fill="#222222" textLength="193.2" lengthAdjust="spacingAndGlyphs">PHOSPHORYLATION</text>
<text x="305.4" y="578.2" font-size="19.50" fill="#222222" textLength="84.2" lengthAdjust="spacingAndGlyphs">Vitamin D</text>
<text x="417.8" y="576.0" font-size="19.50" fill="#222222" textLength="57.4" lengthAdjust="spacingAndGlyphs">LIGHT</text>
<text x="71.6" y="614.8" font-size="19.50" fill="#222222" textLength="200.1" lengthAdjust="spacingAndGlyphs">ENERGY BUFFERING</text>
<text x="79.0" y="672.1" font-size="19.50" fill="#222222" textLength="182.4" lengthAdjust="spacingAndGlyphs">ENERGY STORAGE</text>
<text x="76.7" y="724.4" font-size="16.72" fill="#222222" textLength="124.5" lengthAdjust="spacingAndGlyphs">PERSONAL FAT</text>
<text x="87.4" y="744.0" font-size="16.72" fill="#222222" textLength="103.1" lengthAdjust="spacingAndGlyphs">THRESHOLD</text>
<text x="236.3" y="728.8" font-size="16.72" fill="#222222" textLength="34.4" lengthAdjust="spacingAndGlyphs">FBG</text>
<text x="235.9" y="749.8" font-size="16.72" fill="#222222" textLength="35.3" lengthAdjust="spacingAndGlyphs">NOT</text>
<text x="238.6" y="769.2" font-size="16.72" fill="#222222" textLength="29.7" lengthAdjust="spacingAndGlyphs">BMI</text>
<text x="308.0" y="739.6" font-size="19.50" fill="#222222" textLength="104.0" lengthAdjust="spacingAndGlyphs">ENVIROME</text>
<text x="315.3" y="791.1" font-size="19.50" fill="#222222" textLength="68.3" lengthAdjust="spacingAndGlyphs">hot/cold</text>
<text x="335.0" y="830.2" font-size="19.50" fill="#222222" textLength="46.6" lengthAdjust="spacingAndGlyphs">sleep</text>
<text x="332.7" y="870.0" font-size="19.50" fill="#222222" textLength="52.0" lengthAdjust="spacingAndGlyphs">stress</text>
<text x="335.0" y="906.2" font-size="19.50" fill="#222222" textLength="48.8" lengthAdjust="spacingAndGlyphs">drugs</text>
<text x="343.5" y="942.5" font-size="19.50" fill="#222222" textLength="50.9" lengthAdjust="spacingAndGlyphs">toxins</text>
<text x="348.6" y="980.5" font-size="19.50" fill="#222222" textLength="65.0" lengthAdjust="spacingAndGlyphs">lifestyle</text>
<text x="95.7" y="796.5" font-size="19.50" fill="#222222" textLength="85.6" lengthAdjust="spacingAndGlyphs">CALORIE</text>
<text x="72.4" y="819.7" font-size="19.50" fill="#222222" textLength="132.2" lengthAdjust="spacingAndGlyphs">RESTRICTION</text>
<text x="73.7" y="870.0" font-size="19.50" fill="#222222" textLength="83.4" lengthAdjust="spacingAndGlyphs">FASTING</text>
<text x="73.7" y="925.2" font-size="19.50" fill="#222222" textLength="98.6" lengthAdjust="spacingAndGlyphs">EXERCISE</text>
<text x="71.9" y="977.6" font-size="19.50" fill="#222222" textLength="114.8" lengthAdjust="spacingAndGlyphs">HORMONES</text>
<text x="447.0" y="701.6" font-size="19.50" fill="#222222" textLength="44.4" lengthAdjust="spacingAndGlyphs">DIET</text>
<text x="529.3" y="703.5" font-size="19.50" fill="#222222" textLength="67.2" lengthAdjust="spacingAndGlyphs">glucose</text>
<text x="628.0" y="687.2" font-size="19.50" fill="#222222" textLength="37.9" lengthAdjust="spacingAndGlyphs">fibre</text>
<text x="713.4" y="684.2" font-size="19.50" fill="#222222" textLength="31.4" lengthAdjust="spacingAndGlyphs">fats</text>
<text x="656.5" y="648.0" font-size="19.50" fill="#222222" textLength="92.8" lengthAdjust="spacingAndGlyphs">KETONES</text>
<text x="505.0" y="760.2" font-size="19.50" fill="#222222" textLength="187.5" lengthAdjust="spacingAndGlyphs">A RANGE OF FUELS</text>
<text x="473.5" y="808.5" font-size="19.50" fill="#222222" textLength="244.1" lengthAdjust="spacingAndGlyphs">METABOLIC CO-FACTORS</text>
<text x="458.0" y="859.2" font-size="19.50" fill="#222222" textLength="281.7" lengthAdjust="spacingAndGlyphs">THERMOGENIC UNCOUPLING</text>
<text x="458.0" y="918.2" font-size="19.50" fill="#222222" textLength="264.0" lengthAdjust="spacingAndGlyphs">MITOCHONDRIAL CAPACITY</text>
<text x="454.3" y="977.0" font-size="19.50" fill="#222222" textLength="295.8" lengthAdjust="spacingAndGlyphs">MITOCHONDRIAL PROTECTION</text>
<text x="582.5" y="243.5" font-size="19.50" fill="#222222" textLength="165.8" lengthAdjust="spacingAndGlyphs">NUTRIGENOMICS</text>
<text x="801.9" y="243.5" font-size="19.50" fill="#222222" textLength="131.1" lengthAdjust="spacingAndGlyphs">EPIGENETICS</text>
<text x="608.0" y="300.7" font-size="19.50" fill="#222222" textLength="130.7" lengthAdjust="spacingAndGlyphs">INHERITANCE</text>
<text x="780.9" y="291.7" font-size="19.50" fill="#222222" textLength="130.7" lengthAdjust="spacingAndGlyphs">INHERITANCE</text>
<text x="633.5" y="352.2" font-size="19.50" fill="#222222" textLength="84.5" lengthAdjust="spacingAndGlyphs">DAMAGE</text>
<text x="792.9" y="339.5" font-size="19.50" fill="#222222" textLength="104.0" lengthAdjust="spacingAndGlyphs">NUTRIOME</text>
<text x="803.7" y="379.7" font-size="19.50" fill="#222222" textLength="84.5" lengthAdjust="spacingAndGlyphs">DAMAGE</text>
<text x="677.0" y="416.6" font-size="19.50" fill="#222222" textLength="116.0" lengthAdjust="spacingAndGlyphs">mitochondrial</text>
<text x="714.4" y="439.4" font-size="19.50" fill="#222222" textLength="41.2" lengthAdjust="spacingAndGlyphs">DNA</text>
<text x="835.5" y="431.1" font-size="19.50" fill="#222222" textLength="64.0" lengthAdjust="spacingAndGlyphs">nuclear</text>
<text x="846.9" y="453.6" font-size="19.50" fill="#222222" textLength="41.2" lengthAdjust="spacingAndGlyphs">DNA</text>
<text x="867.7" y="501.7" font-size="19.50" font-weight="bold" fill="#222222" textLength="86.7" lengthAdjust="spacingAndGlyphs">GENETIC</text>
<text x="847.3" y="525.2" font-size="19.50" font-weight="bold" fill="#222222" textLength="127.5" lengthAdjust="spacingAndGlyphs">REGULATION</text>
<text x="977.0" y="242.7" font-size="19.50" fill="#222222" textLength="162.5" lengthAdjust="spacingAndGlyphs">LIVER FUNCTION</text>
<text x="977.0" y="300.9" font-size="19.50" fill="#222222" textLength="150.2" lengthAdjust="spacingAndGlyphs">GUT INTEGRITY</text>
<text x="989.8" y="354.9" font-size="19.50" fill="#222222" textLength="123.1" lengthAdjust="spacingAndGlyphs">ELIMINATION</text>
<text x="1000.0" y="404.2" font-size="19.50" fill="#222222" textLength="107.3" lengthAdjust="spacingAndGlyphs">DIGESTION</text>
<text x="1007.0" y="454.5" font-size="19.50" fill="#222222" textLength="41.2" lengthAdjust="spacingAndGlyphs">GUT</text>
<text x="1188.9" y="242.7" font-size="19.50" fill="#222222" textLength="120.3" lengthAdjust="spacingAndGlyphs">PROBIOTICS</text>
<text x="1358.0" y="244.7" font-size="19.50" fill="#222222" textLength="122.4" lengthAdjust="spacingAndGlyphs">ANTIBIOTICS</text>
<text x="1185.0" y="298.2" font-size="19.50" fill="#222222" textLength="118.1" lengthAdjust="spacingAndGlyphs">PREBIOTICS</text>
<text x="1183.3" y="357.6" font-size="16.72" font-weight="bold" fill="#ff667a" textLength="100.3" lengthAdjust="spacingAndGlyphs">polymorphic</text>
<text x="1186.1" y="376.8" font-size="16.72" font-weight="bold" fill="#ff667a" textLength="94.8" lengthAdjust="spacingAndGlyphs">microbiome</text>
<text x="1178.0" y="431.5" font-size="19.50" fill="#222222" textLength="85.6" lengthAdjust="spacingAndGlyphs">TUMOUR</text>
<text x="1234.3" y="488.9" font-size="19.50" font-weight="bold" fill="#222222" textLength="110.5" lengthAdjust="spacingAndGlyphs">MICROBIAL</text>
<text x="1225.8" y="511.9" font-size="19.50" font-weight="bold" fill="#222222" textLength="127.5" lengthAdjust="spacingAndGlyphs">REGULATION</text>
<text x="1335.5" y="302.1" font-size="19.50" fill="#222222" textLength="143.8" lengthAdjust="spacingAndGlyphs">POLYPHENOLS</text>
<text x="1354.7" y="348.8" font-size="19.50" fill="#222222" textLength="123.9" lengthAdjust="spacingAndGlyphs">POLYAMINES</text>
<text x="1346.6" y="398.8" font-size="19.50" fill="#222222" textLength="131.1" lengthAdjust="spacingAndGlyphs">POSTBIOTICS</text>
<text x="1415.4" y="450.7" font-size="19.50" fill="#222222" textLength="67.9" lengthAdjust="spacingAndGlyphs">SHORT</text>
<text x="1419.0" y="473.6" font-size="19.50" fill="#222222" textLength="60.7" lengthAdjust="spacingAndGlyphs">CHAIN</text>
<text x="1419.7" y="497.4" font-size="19.50" fill="#222222" textLength="59.2" lengthAdjust="spacingAndGlyphs">FATTY</text>
<text x="1419.5" y="519.6" font-size="19.50" fill="#222222" textLength="59.6" lengthAdjust="spacingAndGlyphs">ACIDS</text>
<text x="1240.9" y="565.9" font-size="19.50" fill="#222222" textLength="92.8" lengthAdjust="spacingAndGlyphs">KETONES</text>
<text x="1022.8" y="583.8" font-size="19.50" font-weight="bold" fill="#222222" textLength="165.4" lengthAdjust="spacingAndGlyphs">MITOCHONDRIAL</text>
<text x="1041.8" y="606.0" font-size="19.50" font-weight="bold" fill="#222222" textLength="127.5" lengthAdjust="spacingAndGlyphs">REGULATION</text>
<text x="1391.7" y="558.8" font-size="16.72" font-weight="bold" fill="#ff667a" textLength="94.8" lengthAdjust="spacingAndGlyphs">senescence</text>
<text x="1402.8" y="594.5" font-size="16.72" font-weight="bold" fill="#ff667a" textLength="84.5" lengthAdjust="spacingAndGlyphs">autophagy</text>
<text x="1412.5" y="628.5" font-size="16.72" font-weight="bold" fill="#ff667a" textLength="79.0" lengthAdjust="spacingAndGlyphs">apoptosis</text>
<text x="1251.6" y="609.5" font-size="16.72" font-weight="bold" fill="#ff667a" textLength="62.3" lengthAdjust="spacingAndGlyphs">cell fate</text>
<text x="1236.6" y="667.1" font-size="16.72" font-weight="bold" fill="#ff667a" textLength="94.8" lengthAdjust="spacingAndGlyphs">deregulated</text>
<text x="1237.5" y="687.5" font-size="16.72" font-weight="bold" fill="#ff667a" textLength="92.9" lengthAdjust="spacingAndGlyphs">metabolism</text>
<text x="1386.7" y="666.0" font-size="16.72" font-weight="bold" fill="#ff667a" textLength="106.8" lengthAdjust="spacingAndGlyphs">angiogenesis</text>
<text x="1408.0" y="707.2" font-size="16.72" font-weight="bold" fill="#ff667a" textLength="86.4" lengthAdjust="spacingAndGlyphs">metastasis</text>
<text x="1392.8" y="744.4" font-size="16.72" font-weight="bold" fill="#ff667a" textLength="104.0" lengthAdjust="spacingAndGlyphs">inflammation</text>
<text x="1126.7" y="659.6" font-size="19.50" fill="#222222" textLength="60.7" lengthAdjust="spacingAndGlyphs">AMPK/</text>
<text x="1128.5" y="682.1" font-size="19.50" fill="#222222" textLength="57.0" lengthAdjust="spacingAndGlyphs">mTOR</text>
<text x="1030.0" y="735.7" font-size="19.50" font-weight="bold" fill="#222222" textLength="129.6" lengthAdjust="spacingAndGlyphs">METABOLISM</text>
<text x="1247.7" y="726.1" font-size="16.72" fill="#222222" textLength="45.5" lengthAdjust="spacingAndGlyphs">HIF1a</text>
<text x="1247.7" y="746.4" font-size="16.72" fill="#222222" textLength="45.5" lengthAdjust="spacingAndGlyphs">VEGF</text>
<text x="1375.6" y="785.7" font-size="19.50" fill="#222222" textLength="120.7" lengthAdjust="spacingAndGlyphs">GLYCOLYSIS</text>
<text x="1011.4" y="795.7" font-size="19.50" font-weight="bold" fill="#222222" textLength="139.8" lengthAdjust="spacingAndGlyphs">KREBS CYCLE</text>
<text x="1201.4" y="790.7" font-size="16.72" font-weight="bold" fill="#ff667a" textLength="126.3" lengthAdjust="spacingAndGlyphs">(nonmutational)</text>
<text x="1223.2" y="811.2" font-size="16.72" font-weight="bold" fill="#ff667a" textLength="82.7" lengthAdjust="spacingAndGlyphs">epigenetic</text>
<text x="1202.7" y="829.9" font-size="16.72" font-weight="bold" fill="#ff667a" textLength="123.6" lengthAdjust="spacingAndGlyphs">reprogramming</text>
<text x="1232.0" y="888.9" font-size="13.93" fill="#222222" textLength="79.5" lengthAdjust="spacingAndGlyphs">SUCCINATE</text>
<text x="1226.6" y="920.0" font-size="13.93" fill="#222222" textLength="79.7" lengthAdjust="spacingAndGlyphs">COMPLEX 1</text>
<text x="1352.8" y="827.0" font-size="16.72" fill="#222222" textLength="143.7" lengthAdjust="spacingAndGlyphs">suppression of ATP</text>
<text x="1348.0" y="864.6" font-size="16.72" font-weight="bold" fill="#ff667a" textLength="146.8" lengthAdjust="spacingAndGlyphs">genome instability</text>
<text x="1366.0" y="909.2" font-size="19.50" font-weight="bold" fill="#222222" textLength="128.6" lengthAdjust="spacingAndGlyphs">REDOX TONE</text>
<text x="1353.4" y="958.6" font-size="19.50" font-weight="bold" fill="#222222" textLength="146.2" lengthAdjust="spacingAndGlyphs">THERMOGENIC</text>
<text x="1361.0" y="980.7" font-size="19.50" font-weight="bold" fill="#222222" textLength="131.1" lengthAdjust="spacingAndGlyphs">UNCOUPLING</text>
<text x="1124.4" y="957.5" font-size="19.50" font-weight="bold" fill="#222222" textLength="107.2" lengthAdjust="spacingAndGlyphs">ELECTRON</text>
<text x="1083.8" y="980.7" font-size="19.50" font-weight="bold" fill="#222222" textLength="188.5" lengthAdjust="spacingAndGlyphs">TRANSPORT CHAIN</text>
<text x="1000.0" y="856.8" font-size="19.50" font-weight="bold" fill="#222222" textLength="174.1" lengthAdjust="spacingAndGlyphs">FORWARD KREBS</text>
<text x="1022.5" y="879.2" font-size="19.50" font-weight="bold" fill="#222222" textLength="128.9" lengthAdjust="spacingAndGlyphs">FOR ENERGY</text>
<text x="1014.7" y="914.6" font-size="16.72" font-weight="bold" fill="#ff667a" textLength="84.5" lengthAdjust="spacingAndGlyphs">replication</text>
<text x="792.0" y="646.2" font-size="16.72" font-weight="bold" fill="#ff667a" textLength="68.7" lengthAdjust="spacingAndGlyphs">avoiding</text>
<text x="794.3" y="666.1" font-size="16.72" font-weight="bold" fill="#ff667a" textLength="64.1" lengthAdjust="spacingAndGlyphs">immune</text>
<text x="780.9" y="686.4" font-size="16.72" font-weight="bold" fill="#ff667a" textLength="91.0" lengthAdjust="spacingAndGlyphs">destruction</text>
<text x="786.4" y="729.9" font-size="16.72" font-weight="bold" fill="#ff667a" textLength="166.3" lengthAdjust="spacingAndGlyphs">phenotypic plasticity</text>
<text x="775.0" y="770.5" font-size="16.72" font-weight="bold" fill="#ff667a" textLength="177.5" lengthAdjust="spacingAndGlyphs">replicative immortality</text>
<text x="801.6" y="810.2" font-size="16.72" font-weight="bold" fill="#ff667a" textLength="151.4" lengthAdjust="spacingAndGlyphs">resisting cell death</text>
<text x="792.6" y="862.2" font-size="19.50" font-weight="bold" fill="#222222" textLength="166.9" lengthAdjust="spacingAndGlyphs">REVERSE KREBS</text>
<text x="808.3" y="885.2" font-size="19.50" font-weight="bold" fill="#222222" textLength="135.4" lengthAdjust="spacingAndGlyphs">FOR GROWTH</text>
<text x="804.5" y="940.0" font-size="16.72" font-weight="bold" fill="#ff667a" textLength="180.2" lengthAdjust="spacingAndGlyphs">sustained proliferation</text>
<text x="808.8" y="979.5" font-size="16.72" font-weight="bold" fill="#ff667a" textLength="228.5" lengthAdjust="spacingAndGlyphs">evading growth suppressors</text>
</g>
<g fill="#0b7236" stroke="#0b7236" stroke-width="1">
<text x="35.2" y="1080" font-size="52" textLength="265" lengthAdjust="spacingAndGlyphs">Lifecode G</text>
<text x="299.5" y="1071" font-size="37" textLength="23.5" lengthAdjust="spacingAndGlyphs">X</text>
<text x="340" y="1070" font-size="39" stroke-width="0.7">&#174;</text>
</g>
<g fill="#1b3a5c" stroke="#1b3a5c" stroke-width="0.4">
<text transform="translate(1190.6,1061) scale(0.7336,1)" font-size="41.3">UNCOUPLING CANCER</text>
<text transform="translate(1194,1087.5) scale(0.8525,1)" font-size="20.3">A Metabolic Approach - with Dawn Waldron</text>
</g>
<rect x="0" y="1130" width="1567" height="1" fill="#d0d0d0"/><rect x="0" y="1131" width="1567" height="1" fill="#b4b4b4"/>

</svg>
</body></html>
